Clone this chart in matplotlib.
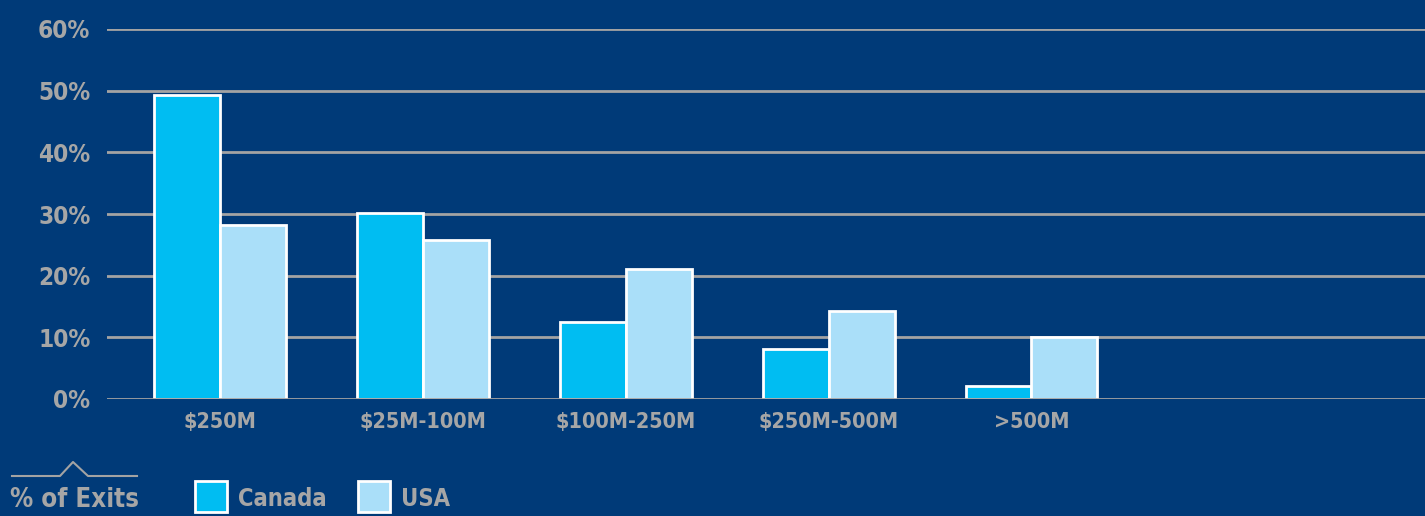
import matplotlib.pyplot as plt
import matplotlib.patches as mpatches
from matplotlib.lines import Line2D
import numpy as np

# exit size buckets and share of exits per country (%)
categories = ["$250M", "$25M-100M", "$100M-250M", "$250M-500M", ">500M"]
canada = [49.3, 30.1, 12.5, 8.1, 2.1]
usa = [28.2, 25.8, 21.1, 14.3, 10.0]
y_ticks = [0, 10, 20, 30, 40, 50, 60]

BG = "#003a78"
CANADA_C = "#00bdf2"
USA_C = "#aadff9"
GRID_C = "#a3a3a3"
TEXT_C = "#a6a6a6"

plt.rcParams["font.family"] = ["DejaVu Sans"]
plt.rcParams["font.stretch"] = "condensed"
plt.rcParams["font.weight"] = "bold"

fig = plt.figure(figsize=(14.25, 5.16), dpi=100, facecolor=BG)
ax = fig.add_axes([107 / 1425, 1 - 399 / 516, 1 - 107 / 1425, (399 - 29) / 516])
ax.set_facecolor(BG)

x = np.arange(len(categories))
w = 0.325
ax.bar(x - w / 2, canada, w, color=CANADA_C, edgecolor="white", linewidth=2, zorder=3)
ax.bar(x + w / 2, usa, w, color=USA_C, edgecolor="white", linewidth=2, zorder=3)

ax.set_ylim(0, 60)
ax.set_xlim(-0.557, 5.94)
ax.set_yticks(y_ticks)
ax.set_yticklabels([f"{v}%" for v in y_ticks])
ax.set_xticks(x)
ax.set_xticklabels(categories)
for v in y_ticks:
    ax.axhline(v, color=GRID_C, linewidth=2, zorder=1 if v else 4)

for s in ax.spines.values():
    s.set_visible(False)
ax.tick_params(length=0, colors=TEXT_C)
ax.tick_params(axis="y", pad=12, labelsize=17.5)
ax.tick_params(axis="x", pad=9.5, labelsize=15.5)
for lab in ax.get_xticklabels() + ax.get_yticklabels():
    lab.set_fontweight("bold")
    lab.set_fontstretch("condensed")
    lab.set_color(TEXT_C)

# bottom legend: caret line, title and swatches
W, H = 1425, 516
px = lambda a, b: (a / W, 1 - b / H)
xs = [12, 60, 73, 88, 137]
ys = [476, 476, 462, 476, 476]
fig.add_artist(Line2D([v / W for v in xs], [1 - v / H for v in ys],
                      color=GRID_C, linewidth=1.5, transform=fig.transFigure))
fig.text(*px(10, 500), "% of Exits", color=TEXT_C, fontsize=18.5,
         fontweight="bold", fontstretch="condensed", va="center", ha="left")
for x0, label, col in [(195, "Canada", CANADA_C), (358, "USA", USA_C)]:
    fig.add_artist(mpatches.Rectangle(px(x0, 512), 32 / W, 31 / H, facecolor=col,
                                      edgecolor="white", linewidth=2,
                                      transform=fig.transFigure))
    fig.text(*px(x0 + 43, 499), label, color=TEXT_C, fontsize=17,
             fontweight="bold", fontstretch="condensed", va="center", ha="left")

fig.savefig("out.png", dpi=100, facecolor=BG)
